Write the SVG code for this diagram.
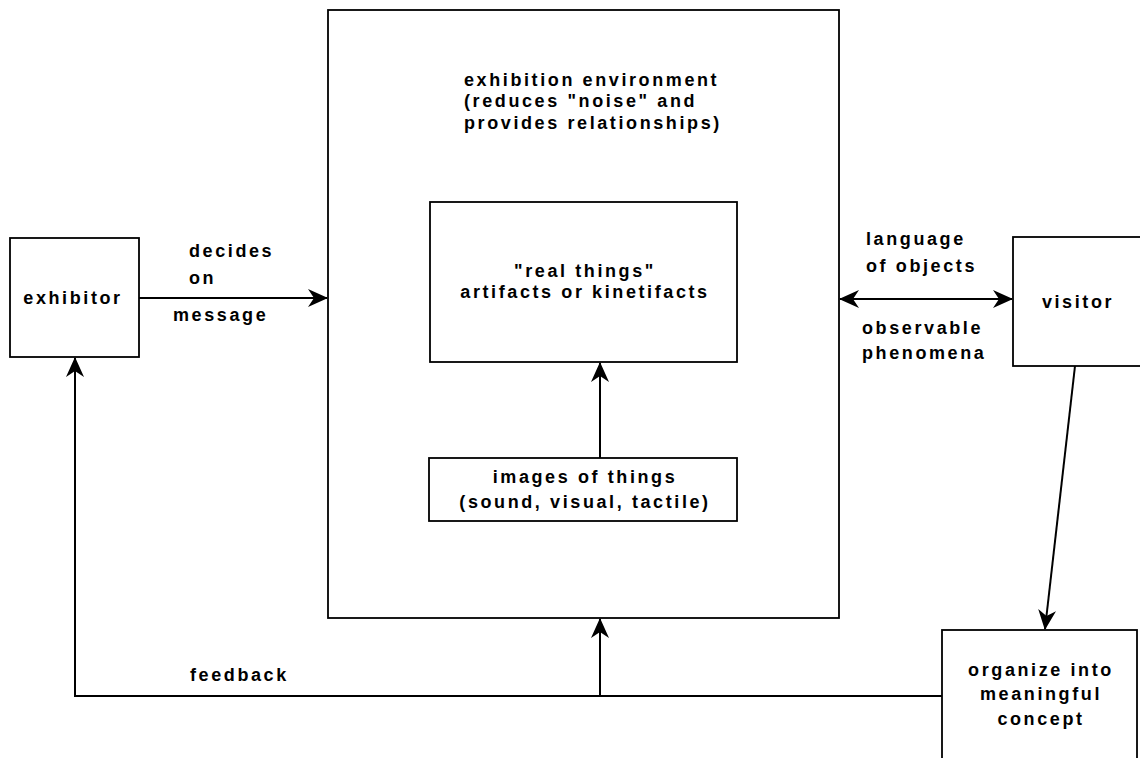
<svg xmlns="http://www.w3.org/2000/svg" width="1140" height="758" viewBox="0 0 1140 758">
<style>
.box{fill:#fff;stroke:#000;stroke-width:1.8}
.c{fill:none;stroke:#000;stroke-width:2}
.t{font-family:"Liberation Sans",Arial,sans-serif;font-weight:bold;font-size:18px;letter-spacing:2.6px;fill:#000}
.m{text-anchor:middle}
</style>
<defs>
<marker id="ah" viewBox="0 0 20 18" refX="19" refY="9" markerWidth="20" markerHeight="18" markerUnits="userSpaceOnUse" orient="auto-start-reverse">
<path d="M0,0 L20,9 L0,18 L6,9 Z" fill="#000"/>
</marker>
</defs>
<rect width="1140" height="758" fill="#fff"/>
<g id="environment">
<rect class="box" x="328" y="10" width="511" height="608"/>
<text class="t" x="464" y="86">exhibition environment</text>
<text class="t" x="464" y="107">(reduces "noise" and</text>
<text class="t" x="464" y="129">provides relationships)</text>
</g>
<g id="realthings">
<rect class="box" x="430" y="202" width="307" height="160"/>
<text class="t m" x="585" y="277">"real things"</text>
<text class="t m" x="585" y="298">artifacts or kinetifacts</text>
</g>
<g id="images">
<rect class="box" x="429" y="458" width="308" height="63"/>
<text class="t m" x="585" y="483">images of things</text>
<text class="t m" x="585" y="508">(sound, visual, tactile)</text>
</g>
<g id="exhibitor">
<rect class="box" x="10" y="238" width="129" height="119"/>
<text class="t m" x="73" y="304">exhibitor</text>
</g>
<g id="visitor">
<rect class="box" x="1013" y="237" width="140" height="129"/>
<text class="t m" x="1078" y="308">visitor</text>
</g>
<g id="organize">
<rect class="box" x="942" y="630" width="195" height="140"/>
<text class="t m" x="1041" y="676">organize into</text>
<text class="t m" x="1041" y="700">meaningful</text>
<text class="t m" x="1041" y="725">concept</text>
</g>
<g id="connectors">
<line class="c" x1="139" y1="298" x2="327" y2="298" marker-end="url(#ah)"/>
<line class="c" x1="840" y1="299" x2="1012" y2="299" stroke-width="2.6" marker-start="url(#ah)" marker-end="url(#ah)"/>
<line class="c" x1="600" y1="458" x2="600" y2="363" marker-end="url(#ah)"/>
<line class="c" x1="1075" y1="366" x2="1045" y2="629" stroke-width="2.4" marker-end="url(#ah)"/>
<polyline class="c" points="942,696 75,696 75,358" stroke-width="2.6" marker-end="url(#ah)"/>
<line class="c" x1="600" y1="696" x2="600" y2="619" marker-end="url(#ah)"/>
<text class="t" x="189" y="257">decides</text>
<text class="t" x="189" y="284">on</text>
<text class="t" x="173" y="321">message</text>
<text class="t" x="866" y="245">language</text>
<text class="t" x="866" y="272">of objects</text>
<text class="t" x="862" y="334">observable</text>
<text class="t" x="862" y="359">phenomena</text>
<text class="t" x="190" y="681">feedback</text>
</g>
</svg>
